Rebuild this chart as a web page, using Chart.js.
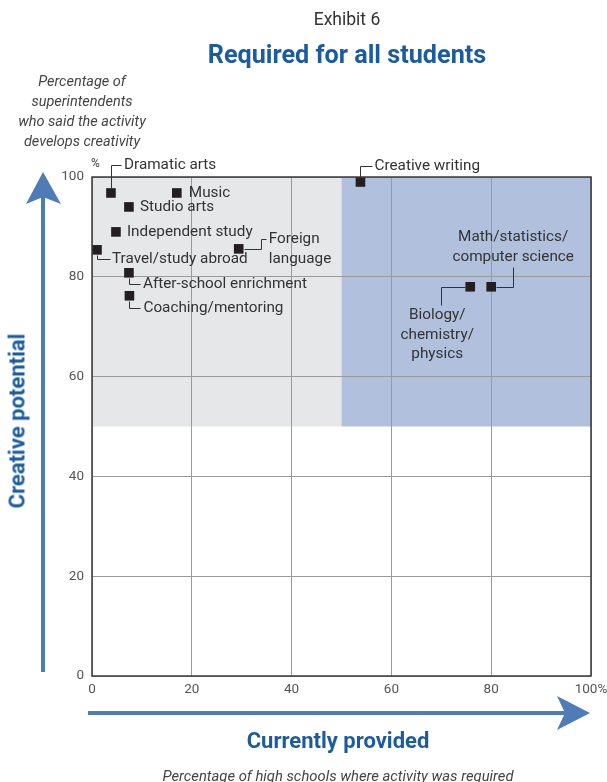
<!DOCTYPE html>
<html>
<head>
<meta charset="utf-8">
<script src="https://cdn.jsdelivr.net/npm/chart.js@4.4.1/dist/chart.umd.min.js"></script>
<style>
  html, body { margin: 0; padding: 0; background: #fff; }
  body { width: 607px; height: 782px; position: relative; overflow: hidden; font-family: Roboto, "Open Sans", sans-serif; }
  #wrap { position: absolute; left: 0; top: 0; width: 607px; height: 782px; }
  .t { position: absolute; white-space: nowrap; }
  #exhibit { left: 0; width: 694px; top: 9px; text-align: center; font-size: 17.5px; color: #333; }
  #title { left: 0; width: 694px; top: 40px; text-align: center; font-size: 25.2px; font-weight: bold; color: #1b5c9e; }
  #ynote { left: 0; width: 164px; top: 72px; text-align: center; font-size: 14.5px; font-style: italic; color: #444; line-height: 20px; }
  #ytitle { left: 17px; top: 421px; transform: translate(-50%, -50%) rotate(-90deg); font-size: 22px; font-weight: bold; color: #1b5c9e; }
  #xtitle { left: 0; width: 676px; top: 728px; text-align: center; font-size: 22px; font-weight: bold; color: #1b5c9e; }
  #xnote { left: 0; width: 676px; top: 767px; text-align: center; font-size: 14.8px; font-style: italic; color: #444; }
</style>
</head>
<body>
<div id="wrap"><canvas id="c" width="607" height="782"></canvas></div>
<div class="t" id="exhibit">Exhibit 6</div>
<div class="t" id="title">Required for all students</div>
<div class="t" id="ynote">Percentage of<br>superintendents<br>who said the activity<br>develops creativity</div>
<div class="t" id="ytitle">Creative potential</div>
<div class="t" id="xtitle">Currently provided</div>
<div class="t" id="xnote">Percentage of high schools where activity was required</div>
<script>
// ---- data ----
const activities = [
  'Dramatic arts', 'Music', 'Studio arts', 'Independent study',
  'Travel/study abroad', 'Foreign language', 'After-school enrichment',
  'Coaching/mentoring', 'Creative writing', 'Biology/chemistry/physics',
  'Math/statistics/computer science'
];
const currentlyProvided = [3.8, 17, 7.4, 4.8, 1, 29.4, 7.4, 7.5, 53.8, 75.8, 80];
const creativePotential = [96.8, 96.8, 94, 89, 85.4, 85.6, 80.8, 76.2, 99, 78, 78];
const labelLines = [
  ['Dramatic arts'], ['Music'], ['Studio arts'], ['Independent study'],
  ['Travel/study abroad'], ['Foreign', 'language'], ['After-school enrichment'],
  ['Coaching/mentoring'], ['Creative writing'], ['Biology/', 'chemistry/', 'physics'],
  ['Math/statistics/', 'computer science']
];
const xTicks = [0, 20, 40, 60, 80, 100];
const yTicks = [0, 20, 40, 60, 80, 100];
// shaded zones: [xFrom, xTo, yFrom, yTo]
const zoneGray = [0, 50, 50, 100];
const zoneBlue = [50, 100, 50, 100];

// ---- label layout (pixel offsets from the point; style only) ----
const labelLayout = [
  { path: [[0,-5],[0,-28],[10,-28]], tx: 13, ty: [-28], align: 'left' },
  { path: null, tx: 12, ty: [0], align: 'left' },
  { path: null, tx: 11, ty: [0], align: 'left' },
  { path: null, tx: 11, ty: [0], align: 'left' },
  { path: [[0,5],[0,9],[13,9]], tx: 15, ty: [9], align: 'left' },
  { path: [[5,0],[22,0],[22,-10],[27,-10]], tx: 30, ty: [-10, 10], align: 'left' },
  { path: [[0,5],[0,11],[11,11]], tx: 14, ty: [11], align: 'left' },
  { path: [[0,5],[0,12],[11,12]], tx: 14, ty: [12], align: 'left' },
  { path: [[0,-5],[0,-16],[12,-16]], tx: 14, ty: [-16], align: 'left' },
  { path: [[-5,0],[-29,0],[-29,18]], tx: -33, ty: [28, 48, 67], align: 'center' },
  { path: [[5,0],[22,0],[22,-20]], tx: 22, ty: [-50, -30], align: 'center' }
];

const FONT = 'Roboto, "Open Sans", sans-serif';

const decorPlugin = {
  id: 'decor',
  beforeDraw(chart) {
    const { ctx, scales: { x, y } } = chart;
    ctx.save();
    const zone = (z, col) => {
      const x0 = x.getPixelForValue(z[0]), x1 = x.getPixelForValue(z[1]);
      const y0 = y.getPixelForValue(z[3]), y1 = y.getPixelForValue(z[2]);
      ctx.fillStyle = col;
      ctx.fillRect(x0, y0, x1 - x0, y1 - y0);
    };
    zone(zoneGray, '#e6e7e9');
    zone(zoneBlue, '#b1c0dc');
    ctx.restore();
  },
  afterDatasetsDraw(chart) {
    const { ctx, chartArea: a, scales: { x, y } } = chart;
    ctx.save();
    // frame
    ctx.strokeStyle = '#3a3a3a';
    ctx.lineWidth = 1.5;
    ctx.strokeRect(a.left, a.top, a.right - a.left, a.bottom - a.top);

    // % sign
    ctx.fillStyle = '#444';
    ctx.font = '12px ' + FONT;
    ctx.textAlign = 'left';
    ctx.textBaseline = 'middle';
    ctx.fillText('%', a.left - 1, a.top - 13);

    // labels
    ctx.font = '15.3px ' + FONT;
    ctx.fillStyle = '#333';
    ctx.strokeStyle = '#333';
    ctx.lineWidth = 1;
    activities.forEach((name, i) => {
      const px = x.getPixelForValue(currentlyProvided[i]);
      const py = y.getPixelForValue(creativePotential[i]);
      const L = labelLayout[i];
      if (L.path) {
        ctx.beginPath();
        L.path.forEach((p, k) => {
          const X = Math.round(px + p[0]) + 0.5, Y = Math.round(py + p[1]) + 0.5;
          if (k === 0) ctx.moveTo(X, Y); else ctx.lineTo(X, Y);
        });
        ctx.stroke();
      }
      ctx.textAlign = L.align;
      ctx.textBaseline = 'middle';
      labelLines[i].forEach((line, k) => {
        ctx.fillText(line, px + L.tx, py + L.ty[k]);
      });
    });

    // arrows
    const arrowCol = '#4f7bb7';
    ctx.fillStyle = arrowCol;
    ctx.strokeStyle = arrowCol;
    ctx.lineWidth = 4;
    // vertical
    ctx.beginPath();
    ctx.moveTo(43, 672); ctx.lineTo(43, 195); ctx.stroke();
    ctx.beginPath();
    ctx.moveTo(43, 172); ctx.lineTo(61, 204); ctx.lineTo(43, 197); ctx.lineTo(26, 204); ctx.closePath(); ctx.fill();
    // horizontal
    ctx.beginPath();
    ctx.moveTo(88, 713); ctx.lineTo(568, 713); ctx.stroke();
    ctx.beginPath();
    ctx.moveTo(590, 713); ctx.lineTo(557, 730); ctx.lineTo(565, 713); ctx.lineTo(557, 696); ctx.closePath(); ctx.fill();
    ctx.restore();
  }
};

new Chart(document.getElementById('c'), {
  type: 'scatter',
  data: {
    datasets: [{
      label: 'Activities',
      data: activities.map((n, i) => ({ x: currentlyProvided[i], y: creativePotential[i] })),
      pointStyle: 'rect',
      pointRadius: 6.8,
      pointHoverRadius: 6.8,
      backgroundColor: '#231f20',
      borderColor: '#231f20',
      borderWidth: 0
    }]
  },
  options: {
    responsive: false,
    animation: false,
    events: [],
    layout: { padding: { left: 0, right: 16, top: 177, bottom: 0 } },
    plugins: { legend: { display: false }, tooltip: { enabled: false }, title: { display: false } },
    scales: {
      x: {
        type: 'linear', min: 0, max: 100,
        afterFit(s) { s.height = 106; s.paddingLeft = 0; s.paddingRight = 0; },
        afterBuildTicks(s) { s.ticks = xTicks.map(v => ({ value: v })); },
        grid: { color: '#9a9a9a', lineWidth: 1, drawTicks: false },
        border: { display: false },
        ticks: {
          padding: 6, color: '#555', font: { family: FONT, size: 13.5 },
          maxRotation: 0,
          callback: v => v === 100 ? '100%' : String(v)
        }
      },
      y: {
        type: 'linear', min: 0, max: 100,
        afterFit(s) { s.width = 92; s.paddingTop = 0; s.paddingBottom = 0; },
        afterBuildTicks(s) { s.ticks = yTicks.map(v => ({ value: v })); },
        grid: { color: '#9a9a9a', lineWidth: 1, drawTicks: false },
        border: { display: false },
        ticks: { padding: 8, color: '#555', font: { family: FONT, size: 13.5 } }
      }
    }
  },
  plugins: [decorPlugin]
});
</script>
</body>
</html>
